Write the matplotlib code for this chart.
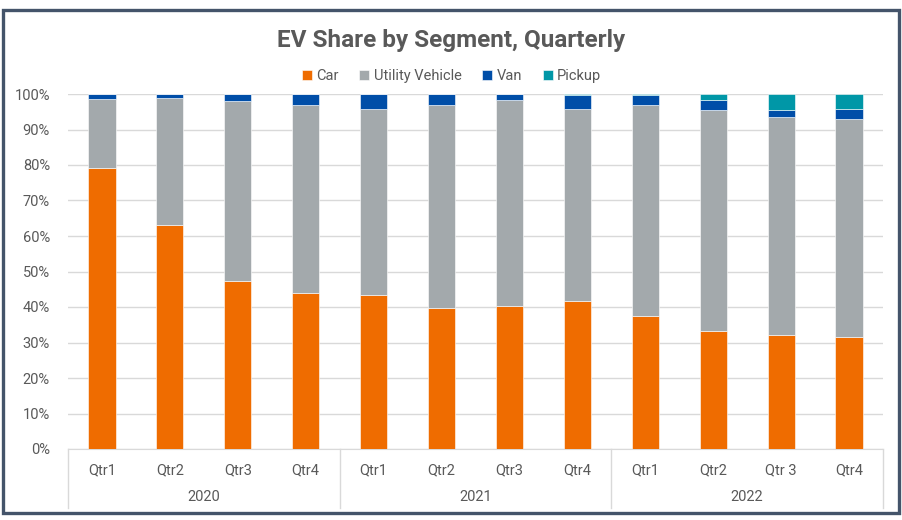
"""
EV share by segment, quarterly (stacked 100% bars, 2020-2022).
"""

import matplotlib.pyplot as plt
import numpy as np
from matplotlib.patches import Rectangle
from matplotlib.ticker import PercentFormatter
import matplotlib.transforms as mtransforms

plt.rcParams["font.family"] = ["Roboto", "DejaVu Sans"]

quarters = ["Qtr1", "Qtr2", "Qtr3", "Qtr4",
            "Qtr1", "Qtr2", "Qtr3", "Qtr4",
            "Qtr1", "Qtr2", "Qtr 3", "Qtr4"]
years = ["2020", "2021", "2022"]

car = [79.2, 63.1, 47.4, 44.0, 43.3, 39.8, 40.4, 41.8, 37.6, 33.2, 32.1, 31.6]
utility = [19.4, 35.8, 50.5, 52.8, 52.5, 57.2, 57.8, 54.0, 59.4, 62.2, 61.5, 61.4]
van = [1.4, 1.1, 2.1, 3.2, 4.2, 3.0, 1.8, 3.9, 2.7, 2.8, 1.8, 2.9]
pickup = [0.0, 0.0, 0.0, 0.0, 0.0, 0.0, 0.0, 0.3, 0.3, 1.8, 4.6, 4.1]

series = [("Car", car, "#EF6C00"),
          ("Utility Vehicle", utility, "#A3A9AC"),
          ("Van", van, "#004EA8"),
          ("Pickup", pickup, "#0097A7")]

TXT = "#595959"
GRID = "#D9D9D9"

fig = plt.figure(figsize=(9.03, 5.2), dpi=100)
ax = fig.add_axes([68 / 903, 1 - 449 / 520, (883 - 68) / 903, (449 - 94) / 520])

x = np.arange(len(quarters))
bottom = np.zeros(len(quarters))
for name, vals, color in series:
    vals = np.array(vals)
    ax.bar(x, vals, width=0.4, bottom=bottom, color=color, label=name,
           edgecolor="white", linewidth=0.4, zorder=3)
    bottom += vals

ax.set_xlim(-0.5, len(quarters) - 0.5)
ax.set_ylim(0, 100)
ax.set_yticks(np.arange(0, 101, 10))
ax.yaxis.set_major_formatter(PercentFormatter(100, decimals=0))
ax.grid(axis="y", color=GRID, linewidth=1, zorder=0)
for s in ["top", "right", "left"]:
    ax.spines[s].set_visible(False)
ax.spines["bottom"].set_color(GRID)
ax.tick_params(axis="y", length=0, pad=13, labelsize=10.5, labelcolor=TXT)
ax.set_xticks(x)
ax.set_xticklabels(quarters)
ax.tick_params(axis="x", length=0, pad=10, labelsize=10.5, labelcolor=TXT)

# multi-level category axis: year labels and separators
trans = mtransforms.blended_transform_factory(ax.transData, ax.transAxes)
for i, yr in enumerate(years):
    ax.text(i * 4 + 1.5, -0.135, yr, transform=trans, ha="center", va="center",
            fontsize=10.5, color=TXT)
for b in [-0.5, 3.5, 7.5, 11.5]:
    ax.plot([b, b], [0, -0.166], transform=trans, color=GRID, linewidth=1,
            clip_on=False)

fig.text(0.5, 1 - 40 / 520, "EV Share by Segment, Quarterly", ha="center",
         va="center", fontsize=17.5, fontweight="bold", color=TXT)
fig.legend(loc="center", bbox_to_anchor=(0.5, 1 - 76 / 520), ncol=4,
           frameon=False, handlelength=0.7, handleheight=0.7, handletextpad=0.3,
           columnspacing=1.4, fontsize=10.5, labelcolor=TXT)

fig.patches.append(Rectangle((3 / 903, 1 - 513 / 520), 896 / 903, 503 / 520,
                             transform=fig.transFigure, fill=False,
                             edgecolor="#44546A", linewidth=2.4))

fig.savefig("out.png", dpi=100)
